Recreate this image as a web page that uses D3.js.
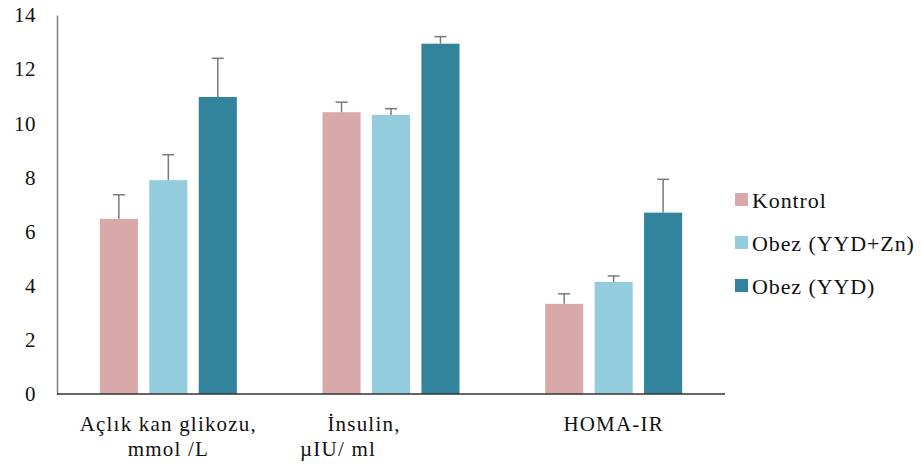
<!DOCTYPE html>
<html>
<head>
<meta charset="utf-8">
<script src="https://cdn.jsdelivr.net/npm/d3@7"></script>
<style>
  body { margin: 0; background: #fff; }
</style>
</head>
<body>
<div id="chart"></div>
<script>
// data
var categories = ["Açlık kan glikozu, mmol /L", "İnsulin, µIU/ ml", "HOMA-IR"];
var categoryLines = [["Açlık kan glikozu,", "mmol /L"], ["İnsulin,", "µIU/ ml"], ["HOMA-IR"]];
var series = ["Kontrol", "Obez (YYD+Zn)", "Obez (YYD)"];
var kontrol = [6.47, 10.41, 3.33];
var obezZn = [7.90, 10.31, 4.14];
var obezYYD = [10.97, 12.94, 6.70];
var kontrolErr = [0.89, 0.37, 0.37];
var obezZnErr = [0.94, 0.23, 0.22];
var obezYYDErr = [1.43, 0.26, 1.23];
var yTicks = [0, 2, 4, 6, 8, 10, 12, 14];
var colors = ["#d9a8a9", "#93cddd", "#31849b"];

var FONT = "'Liberation Serif', 'Times New Roman', serif";
var width = 922, height = 468;
var margin = {top: 15, right: 197, bottom: 74, left: 57};

var values = [kontrol, obezZn, obezYYD];
var errs = [kontrolErr, obezZnErr, obezYYDErr];

var svg = d3.select("#chart").append("svg")
    .attr("width", width)
    .attr("height", height)
    .attr("font-family", FONT);

var x0 = d3.scaleBand()
    .domain(categories)
    .range([margin.left, width - margin.right]);

var x1 = d3.scaleBand()
    .domain(series)
    .range([-68.5, 68.5])
    .paddingInner(0.23);

var y = d3.scaleLinear()
    .domain([0, 14])
    .range([height - margin.bottom, margin.top]);

// y axis
var yAxis = svg.append("g")
    .attr("transform", "translate(" + margin.left + ",0)")
    .call(d3.axisLeft(y).tickValues(yTicks).tickSize(0).tickPadding(21));
yAxis.attr("font-family", FONT).attr("font-size", 21);
yAxis.select(".domain").attr("stroke", "#7f7f7f").attr("stroke-width", 1.5);
yAxis.selectAll("text").attr("fill", "#111").attr("letter-spacing", "0.5px");

var groups = svg.selectAll(".grp")
    .data(categories)
    .enter().append("g")
    .attr("class", "grp")
    .attr("transform", function(d) { return "translate(" + (x0(d) + x0.bandwidth() / 2) + ",0)"; });

groups.each(function(cat, ci) {
    var g = d3.select(this);
    series.forEach(function(s, si) {
        var v = values[si][ci], e = errs[si][ci];
        var bx = x1(s), bw = x1.bandwidth();
        g.append("rect")
            .attr("x", bx)
            .attr("y", y(v))
            .attr("width", bw)
            .attr("height", y(0) - y(v))
            .attr("fill", colors[si]);
        var cx = bx + bw / 2;
        g.append("line")
            .attr("x1", cx).attr("x2", cx)
            .attr("y1", y(v)).attr("y2", y(v + e))
            .attr("stroke", "#7a7a7a").attr("stroke-width", 1.5);
        g.append("line")
            .attr("x1", cx - 6).attr("x2", cx + 6)
            .attr("y1", y(v + e)).attr("y2", y(v + e))
            .attr("stroke", "#7a7a7a").attr("stroke-width", 1.5);
    });
});

// x axis line
svg.append("line")
    .attr("x1", margin.left).attr("x2", width - margin.right)
    .attr("y1", y(0)).attr("y2", y(0))
    .attr("stroke", "#333").attr("stroke-width", 1.5);

// category labels (second line of insulin label sits left, as in the original)
var lineShift = [[0, 0], [-27, -53], [0]];
groups.each(function(cat, ci) {
    var g = d3.select(this);
    categoryLines[ci].forEach(function(t, li) {
        g.append("text")
            .attr("x", lineShift[ci][li])
            .attr("y", y(0) + 37 + li * 25)
            .attr("text-anchor", "middle")
            .attr("font-size", 21)
            .attr("letter-spacing", "1.2px")
            .attr("fill", "#111")
            .text(t);
    });
});

// legend
var legend = svg.append("g")
    .attr("transform", "translate(735,200)");
series.forEach(function(s, i) {
    var row = legend.append("g").attr("transform", "translate(0," + (i * 43) + ")");
    row.append("rect")
        .attr("x", 0).attr("y", -7)
        .attr("width", 13).attr("height", 13)
        .attr("fill", colors[i]);
    row.append("text")
        .attr("x", 17).attr("y", 0)
        .attr("dy", "0.35em")
        .attr("font-size", 22)
        .attr("letter-spacing", "0.9px")
        .attr("fill", "#111")
        .text(s);
});
</script>
</body>
</html>
